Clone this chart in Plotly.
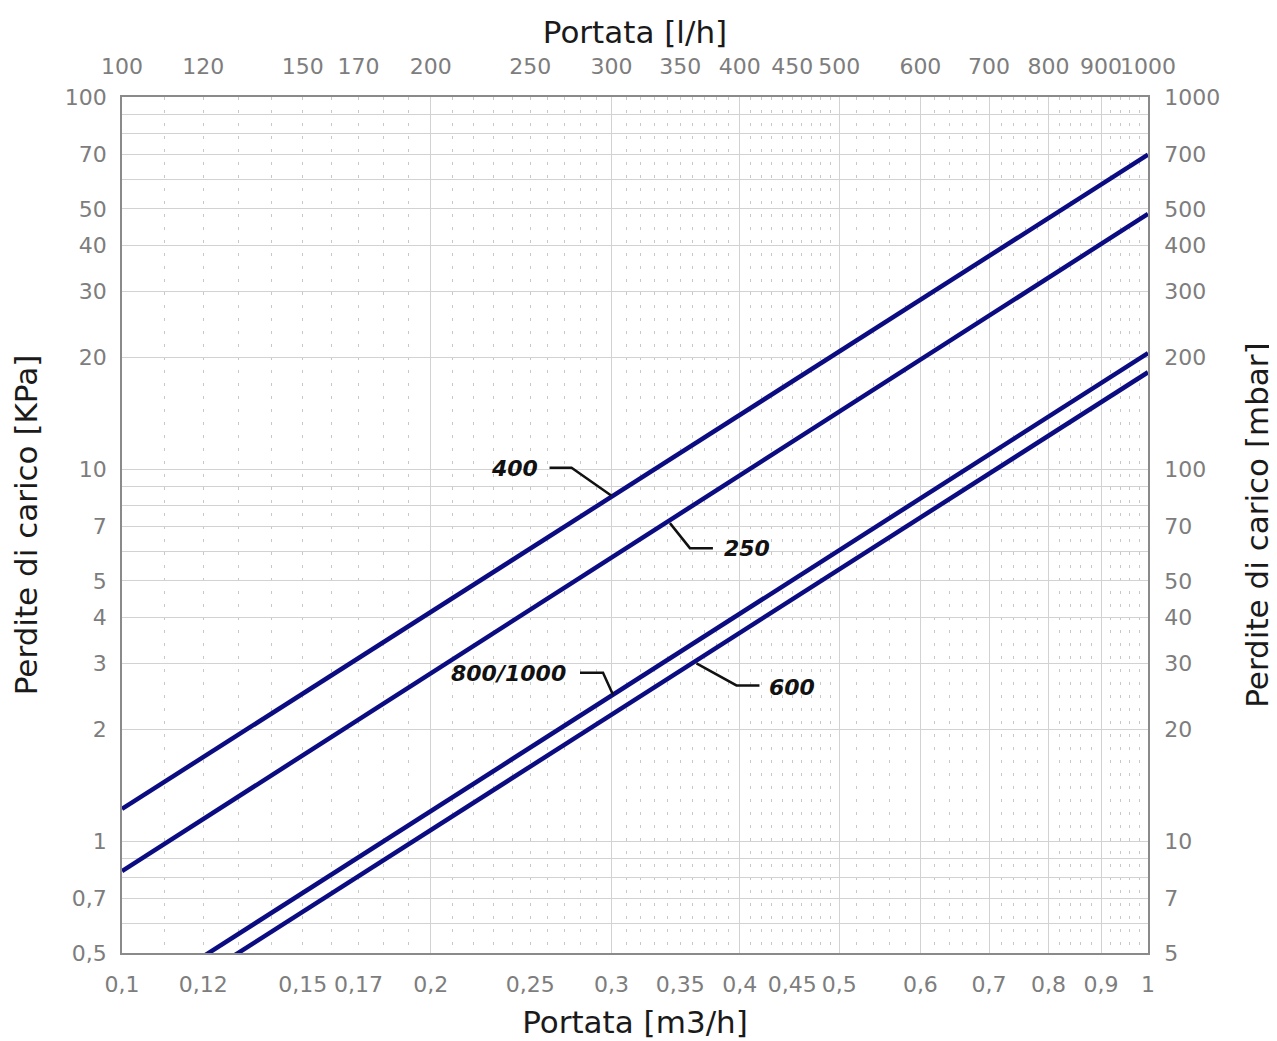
import plotly.graph_objects as go
import numpy as np

# ---- data ----
flow_m3h = [0.1, 1.0]                      # Portata [m3/h]
series_names = ["400", "250", "800/1000", "600"]
dp_400 = [1.22, 70.0]                      # Perdite di carico [KPa]
dp_250 = [0.83, 48.5]
dp_800_1000 = [0.355, 20.5]
dp_600 = [0.316, 18.2]

bottom_tickvals = [0.1, 0.12, 0.15, 0.17, 0.2, 0.25, 0.3, 0.35, 0.4, 0.45, 0.5, 0.6, 0.7, 0.8, 0.9, 1.0]
bottom_ticktext = ["0,1", "0,12", "0,15", "0,17", "0,2", "0,25", "0,3", "0,35", "0,4", "0,45", "0,5",
                   "0,6", "0,7", "0,8", "0,9", "1"]
top_tickvals = [100, 120, 150, 170, 200, 250, 300, 350, 400, 450, 500, 600, 700, 800, 900, 1000]
top_ticktext = [str(v) for v in top_tickvals]
left_tickvals = [0.5, 0.7, 1, 2, 3, 4, 5, 7, 10, 20, 30, 40, 50, 70, 100]
left_ticktext = ["0,5", "0,7", "1", "2", "3", "4", "5", "7", "10", "20", "30", "40", "50", "70", "100"]
right_tickvals = [5, 7, 10, 20, 30, 40, 50, 70, 100, 200, 300, 400, 500, 700, 1000]
right_ticktext = [str(v) for v in right_tickvals]

# label anchor x positions on each curve (m3/h)
label_anchor_x = {"400": 0.300, "250": 0.342, "800/1000": 0.301, "600": 0.363}

# ---- layout constants ----
W, H = 1269, 1033
ML, MR, MT, MB = 114, 129, 89, 88
X_RANGE = [-1.0, 0.0]
Y_RANGE = [float(np.log10(0.5)), 2.0]
PX_PER_DEC_X = (W - ML - MR) / (X_RANGE[1] - X_RANGE[0])
PX_PER_DEC_Y = (H - MT - MB) / (Y_RANGE[1] - Y_RANGE[0])

# ---- grid helpers ----
minor_x_dotted = [round(v / 100, 2) for v in range(11, 50) if v % 10 != 0] + \
                 [round(v / 100, 2) for v in range(52, 100, 2) if v % 10 != 0]
solid_x_lh = [100, 200, 300, 400, 500, 600, 700, 800, 900, 1000]
minor_y_solid = [0.6, 0.8, 0.9, 6, 8, 9, 60, 80, 90]

LINE_COLOR = "#0c0c82"
GRID = "#d2d2d2"
DOT = "#c8c8c8"
FAM = "DejaVu Sans, Liberation Sans, Arial, sans-serif"
TICKFONT = dict(family=FAM, size=22, color="#7d7d7d")
TITLEFONT = dict(family=FAM, size=31, color="#1a1a1a")

fig = go.Figure()
series = {"400": dp_400, "250": dp_250, "800/1000": dp_800_1000, "600": dp_600}
for name in series_names:
    fig.add_trace(go.Scatter(x=flow_m3h, y=series[name], mode="lines", name=name,
                             line=dict(color=LINE_COLOR, width=4.5), showlegend=False,
                             hoverinfo="skip"))

# invisible trace on secondary axes (l/h vs mbar) so they render
fig.add_trace(go.Scatter(x=[v * 1000 for v in flow_m3h], y=[v * 10 for v in dp_400],
                         xaxis="x2", yaxis="y2", mode="markers",
                         marker=dict(opacity=0), showlegend=False, hoverinfo="skip"))


def y_on(name, x):
    xs = np.log10(flow_m3h)
    ys = np.log10(series[name])
    return 10 ** np.interp(np.log10(x), xs, ys)


def shift(x, y, dx, dy):
    """move a data point by a pixel offset (dx right, dy down)"""
    return 10 ** (np.log10(x) + dx / PX_PER_DEC_X), 10 ** (np.log10(y) - dy / PX_PER_DEC_Y)


# label geometry in pixels relative to anchor on line:
# start offset, bend offset, end offset, text offset
label_geom = {
    "400": ((0, -1), (-40, -29), (-62, -29), (-97, -28)),
    "250": ((0, 3), (20, 28), (43, 28), (77, 28)),
    "800/1000": ((0, 0), (-10, -22), (-33, -22), (-105, -21)),
    "600": ((0, 3), (40, 25), (63, 25), (96, 27)),
}
for name in series_names:
    ax_ = label_anchor_x[name]
    ay_ = float(y_on(name, ax_))
    pts = [shift(ax_, ay_, *off) for off in label_geom[name][:3]]
    fig.add_trace(go.Scatter(x=[p[0] for p in pts], y=[p[1] for p in pts], mode="lines",
                             line=dict(color="#111111", width=2.5), showlegend=False,
                             hoverinfo="skip"))
    tdx, tdy = label_geom[name][3]
    fig.add_annotation(x=np.log10(ax_), y=np.log10(ay_), xref="x", yref="y",
                       text="<b><i>%s</i></b>" % name,
                       showarrow=False, xshift=tdx, yshift=-tdy,
                       font=dict(family=FAM, size=22, color="#111111"))

fig.update_layout(
    width=W, height=H,
    margin=dict(l=ML, r=MR, t=MT, b=MB, autoexpand=False),
    paper_bgcolor="white", plot_bgcolor="white",
    xaxis=dict(type="log", range=X_RANGE, tickmode="array", tickvals=bottom_tickvals,
               ticktext=bottom_ticktext, showgrid=False, ticks="", ticklabelstandoff=11,
               tickangle=0, tickfont=TICKFONT, showline=True, linecolor="#8a8a8a", linewidth=1.5,
               title=dict(text="Portata [m3/h]", font=TITLEFONT, standoff=15),
               minor=dict(tickmode="array", tickvals=minor_x_dotted, showgrid=True,
                          gridcolor=DOT, griddash="3px,10px", gridwidth=1, ticks=""),
               zeroline=False),
    xaxis2=dict(type="log", range=[2, 3], overlaying="x", side="top", anchor="y",
                tickmode="array", tickvals=top_tickvals, ticktext=top_ticktext,
                showgrid=False, ticks="", ticklabelstandoff=12, tickangle=0, tickfont=TICKFONT,
                showline=True, linecolor="#8a8a8a", linewidth=1.5,
                title=dict(text="Portata [l/h]", font=TITLEFONT, standoff=2),
                minor=dict(tickmode="array", tickvals=solid_x_lh, showgrid=True,
                           gridcolor=GRID, gridwidth=1, ticks=""),
                zeroline=False),
    yaxis=dict(type="log", range=Y_RANGE, tickmode="array", tickvals=left_tickvals,
               ticktext=left_ticktext, showgrid=True, gridcolor=GRID, gridwidth=1, ticks="",
               ticklabelstandoff=9, tickfont=TICKFONT, showline=True, linecolor="#8a8a8a",
               linewidth=1.5,
               title=dict(text="Perdite di carico [KPa]", font=TITLEFONT, standoff=22),
               minor=dict(tickmode="array", tickvals=minor_y_solid, showgrid=True,
                          gridcolor=GRID, gridwidth=1, ticks=""),
               zeroline=False),
    yaxis2=dict(type="log", range=[np.log10(5), 3], overlaying="y", side="right", anchor="x",
                tickmode="array", tickvals=right_tickvals, ticktext=right_ticktext,
                showgrid=False, ticks="", ticklabelstandoff=10, tickfont=TICKFONT,
                showline=True, linecolor="#8a8a8a", linewidth=1.5,
                title=dict(text="Perdite di carico [mbar]", font=TITLEFONT, standoff=27),
                zeroline=False),
)

fig.write_html("out.html")
